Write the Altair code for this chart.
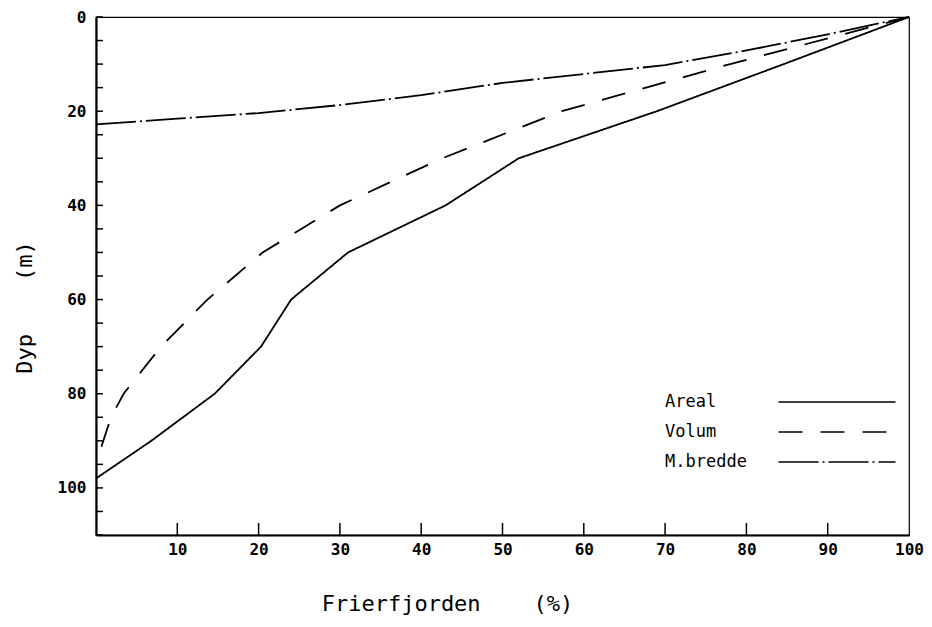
import altair as alt
import pandas as pd

# ---- data ----
series_names = ["Areal", "Volum", "M.bredde"]

areal_depth = [0, 10, 20, 30, 40, 50, 60, 70, 80, 90, 98]
areal_pct = [100, 84.6, 69, 52, 43, 31, 24, 20.3, 14.6, 6.8, 0]

volum_depth = [0, 10, 20, 30, 40, 50, 60, 70, 80, 85, 90, 95]
volum_pct = [100, 78, 57.3, 42.6, 30, 20.5, 13.7, 8, 3.4, 1.85, 0.9, 0]

bredde_pct = [0, 10, 20, 30, 40, 50, 60, 70, 80, 90, 100]
bredde_depth = [22.8, 21.6, 20.4, 18.7, 16.6, 14.0, 12.1, 10.2, 7.1, 3.7, 0]

x_tick_labels = [10, 20, 30, 40, 50, 60, 70, 80, 90, 100]
x_tick_marks = [10, 20, 30, 40, 50, 60, 70, 80, 90]
y_tick_labels = [0, 20, 40, 60, 80, 100]
y_tick_marks = list(range(0, 111, 5))

dash_styles = [[1, 0], [24, 18], [40, 4, 2, 4]]

x_title = "Frierfjorden\u00a0\u00a0\u00a0\u00a0(%)"
y_title = "Dyp\u00a0\u00a0\u00a0\u00a0(m)"

rows = []
for name, xs, ys in [("Areal", areal_pct, areal_depth),
                     ("Volum", volum_pct, volum_depth),
                     ("M.bredde", bredde_pct, bredde_depth)]:
    for i, (xv, yv) in enumerate(zip(xs, ys)):
        rows.append({"series": name, "pct": xv, "depth": yv, "idx": i})
df = pd.DataFrame(rows)

W, H = 813, 518
MONO = "DejaVu Sans Mono"

xscale = alt.Scale(domain=[0, 100], nice=False, zero=False)
yscale = alt.Scale(domain=[0, 110], reverse=True, nice=False, zero=False)

lines = alt.Chart(df).mark_line(color="black", strokeWidth=1.8).encode(
    x=alt.X("pct:Q", scale=xscale,
            axis=alt.Axis(values=x_tick_labels, title=x_title,
                          titleX=351, titleY=68, titleBaseline="middle",
                          titleAlign="center", labelFlush=False)),
    y=alt.Y("depth:Q", scale=yscale,
            axis=alt.Axis(values=y_tick_labels, title=y_title,
                          titleX=-72, titleY=290, titleAngle=270,
                          titleBaseline="middle", titleAlign="center",
                          labelFlush=False)),
    strokeDash=alt.StrokeDash(
        "series:N",
        scale=alt.Scale(domain=series_names, range=dash_styles),
        legend=alt.Legend(title=None, orient="none", legendX=730, legendY=374,
                          symbolType="M-5.85,0H5.85", symbolSize=400,
                          symbolStrokeWidth=1.5, symbolStrokeColor="black",
                          labelFont=MONO, labelFontSize=17, labelColor="black",
                          labelAlign="left", labelOffset={"expr": "-183"},
                          padding=0, rowPadding=11),
    ),
    detail="series:N",
    order="idx:Q",
)

ytick_df = pd.DataFrame({"v": y_tick_marks})
yticks = alt.Chart(ytick_df).mark_rule(color="black", strokeWidth=1.5).encode(
    y=alt.Y("v:Q", scale=yscale),
    x=alt.value(0),
    x2=alt.value(7),
)

xtick_df = pd.DataFrame({"v": x_tick_marks})
xticks = alt.Chart(xtick_df).mark_rule(color="black", strokeWidth=1.5).encode(
    x=alt.X("v:Q", scale=xscale),
    y=alt.value(H),
    y2=alt.value(H - 12),
)

chart = alt.layer(lines, yticks, xticks).properties(
    width=W, height=H,
    autosize=alt.AutoSizeParams(type="none"),
    padding={"left": 88, "top": 9, "right": 15, "bottom": 80},
).configure_view(
    stroke="black", strokeWidth=1.2
).configure_axis(
    domainColor="black", domainWidth=2.2, ticks=False, grid=False,
    labelFont=MONO, labelFontSize=16, labelFontWeight="bold", labelColor="black",
    titleFont=MONO, titleFontSize=22, titleFontWeight="normal", titleColor="black",
).configure_axisY(
    labelPadding=10
).configure_axisX(
    labelPadding=6
)

chart.save("out.html", embed_options={"renderer": "svg", "actions": False})
